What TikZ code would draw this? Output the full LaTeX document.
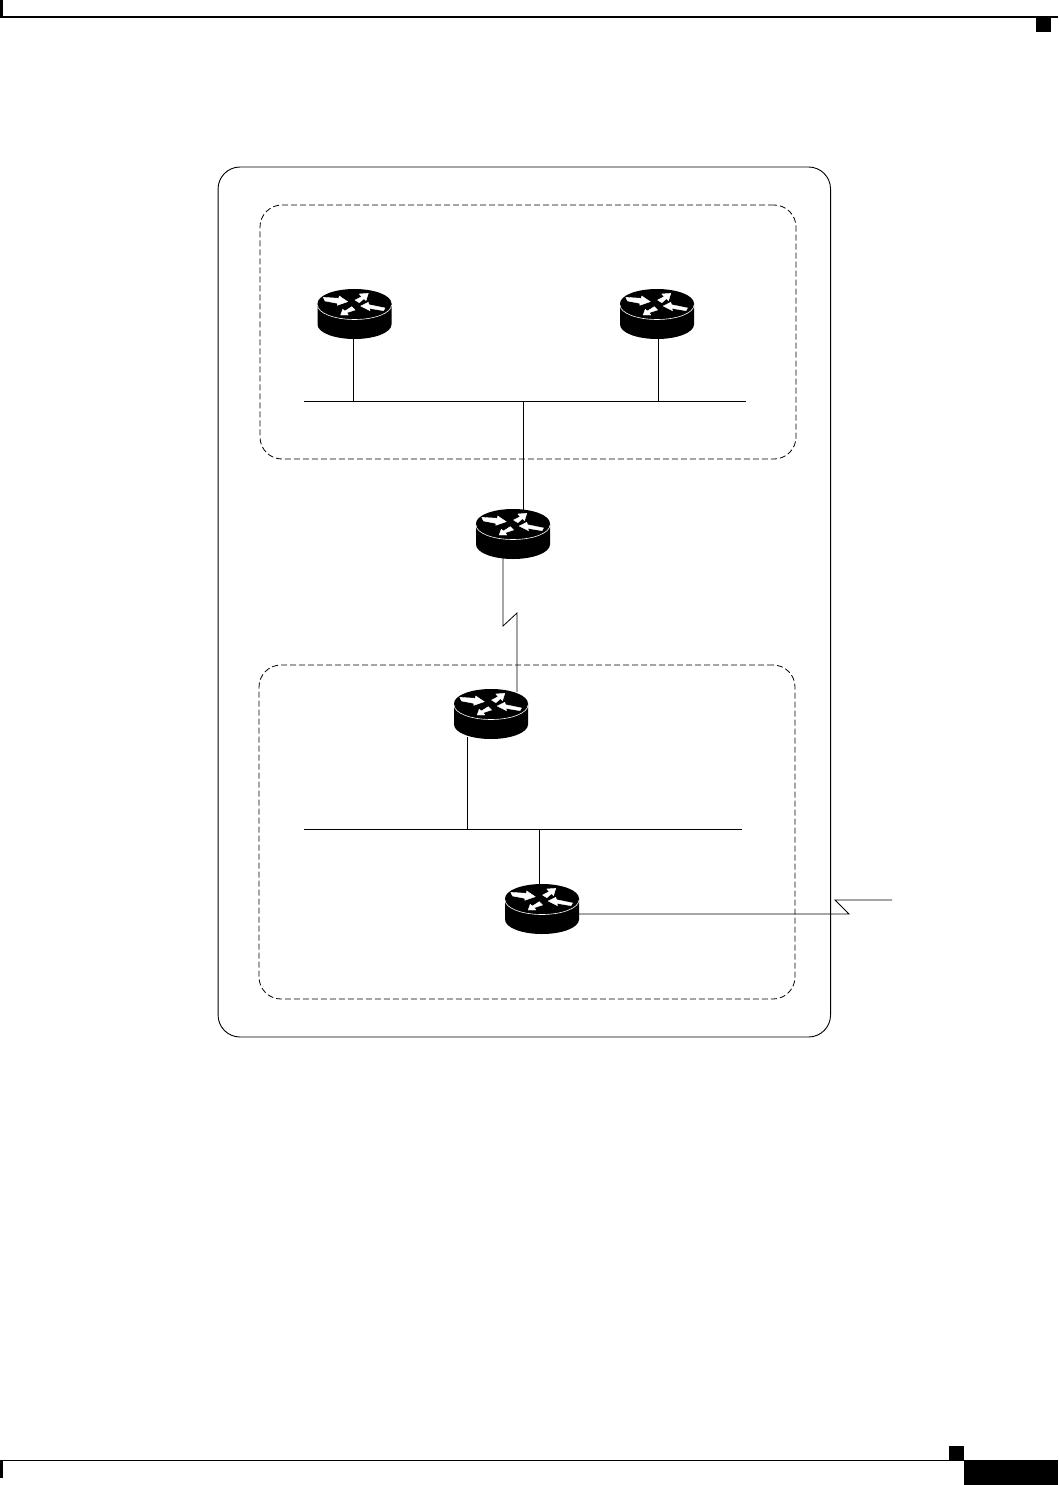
\documentclass[tikz,border=0pt]{standalone}
\tikzset{
  boundary/.style={draw=black,line width=0.9pt,rounded corners=22pt},
  area/.style={draw=black,line width=0.8pt,dash pattern=on 6pt off 3pt,rounded corners=22pt},
  link/.style={draw=black,line width=0.8pt},
  pagefill/.style={fill=black,draw=none},
  routerbox/.style={minimum width=74pt,minimum height=50pt,inner sep=0pt,outer sep=0pt,draw=none},
  flowarrow/.style={fill=white,draw=white,line width=0.4pt},
  pics/router/.style={code={
    \fill[black] (-37,-10.5) -- (-37,10.5) arc[start angle=180,end angle=360,x radius=37,y radius=-14.5] -- (37,-10.5) -- cycle;
    \fill[black] (0,-10.5) ellipse[x radius=37,y radius=14.5];
    \draw[white,line width=0.6pt] (-37,-9) arc[start angle=180,end angle=360,x radius=37,y radius=-14.5];
    \path[flowarrow] (-31.2,-16.7) -- (-15.8,-15.7) -- (-15.2,-18) -- (-6.8,-12.3) -- (-17.2,-8.7) -- (-17.2,-10.7) -- (-29.5,-13) -- cycle;
    \path[flowarrow] (13.8,-20.7) -- (4.8,-20) -- (7.2,-17.3) -- (0.5,-14) -- (4.8,-11.3) -- (9.5,-15.3) -- (11.5,-13.3) -- cycle;
    \path[flowarrow] (6.2,-8) -- (13.8,-11.7) -- (14.5,-9.3) -- (30.5,-6) -- (29,-3.3) -- (14.8,-5.7) -- (15.5,-3.3) -- cycle;
    \path[flowarrow] (-13.8,1) -- (-11.8,-4.7) -- (-9.5,-3) -- (-2.8,-7.3) -- (0.5,-4) -- (-7.8,-1.3) -- (-6.2,1) -- cycle;
    \node[routerbox] (-box) at (0,0) {};
  }}
}
\begin{document}
\begin{tikzpicture}[x=1pt,y=-1pt]
\useasboundingbox (0,0) rectangle (1058,1485);
% page furniture
\fill[pagefill] (0,16.5) rectangle (1058,18);
\fill[pagefill] (0,0) rectangle (3,17);
\fill[pagefill] (1036,17) rectangle (1051,32);
\fill[pagefill] (0,1459.5) rectangle (964,1461);
\fill[pagefill] (0,1460) rectangle (3,1478);
\fill[pagefill] (949,1446) rectangle (964,1460);
\fill[pagefill] (964,1460) rectangle (1058,1485);
% regions
\node[boundary,minimum width=612.5pt,minimum height=870pt,inner sep=0pt] (domain) at (524.3,602) {};
\node[area,minimum width=536pt,minimum height=254pt,inner sep=0pt] (areaA) at (528,332) {};
\node[area,minimum width=536pt,minimum height=334pt,inner sep=0pt] (areaB) at (527,832) {};
% routers
\pic (r1) at (354.5,314) {router};
\pic (r2) at (657,314) {router};
\pic (r3) at (513,534) {router};
\pic (r4) at (491,714) {router};
\pic (r5) at (542,909) {router};
% buses
\coordinate (busAl) at (304,401);
\coordinate (busAr) at (746,401);
\coordinate (busBl) at (304,829);
\coordinate (busBr) at (742,829);
\draw[link] (busAl) -- (busAr);
\draw[link] (busBl) -- (busBr);
% connectors
\coordinate (r1drop) at (353.5,339);
\draw[link] (r1drop) -- (r1drop |- busAl);
\coordinate (r2drop) at (658.5,339);
\draw[link] (r2drop) -- (r2drop |- busAl);
\coordinate (r3up) at (523.5,511);
\draw[link] (r3up) -- (r3up |- busAl);
\coordinate (r3down) at (503,558);
\coordinate (k1) at (503,626);
\coordinate (k2) at (517,613);
\coordinate (r4up) at (517,692);
\draw[link] (r3down) -- (k1) -- (k2) -- (r4up);
\coordinate (r4down) at (467,737);
\draw[link] (r4down) -- (r4down |- busBl);
\coordinate (r5up) at (539.3,886);
\draw[link] (r5up) -- (r5up |- busBl);
\coordinate (k3) at (849,914);
\coordinate (k4) at (835,900);
\coordinate (wanend) at (892,900);
\draw[link] (r5-box.east |- k3) -- (k3) -- (k4) -- (wanend);
\end{tikzpicture}
\end{document}
